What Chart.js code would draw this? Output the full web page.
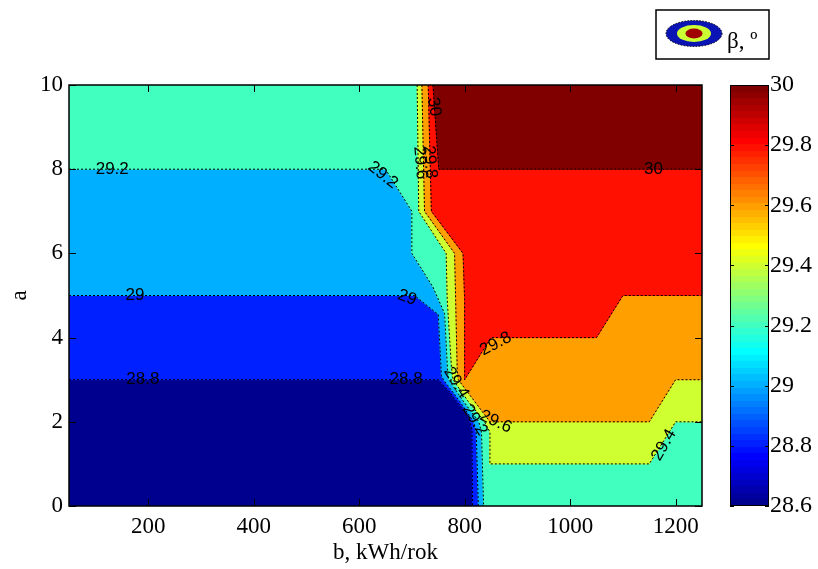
<!DOCTYPE html>
<html>
<head>
<meta charset="utf-8">
<script src="https://cdn.jsdelivr.net/npm/chart.js@4.4.1/dist/chart.umd.min.js"></script>
<style>
  html, body { margin: 0; padding: 0; background: #fff; }
  #wrap { position: relative; width: 818px; height: 569px; }
  #main { position: absolute; left: 0; top: 0; }
  #cbar { position: absolute; left: 700px; top: 0; }
</style>
</head>
<body>
<div id="wrap">
  <canvas id="main" width="818" height="569"></canvas>
  <canvas id="cbar" width="118" height="569"></canvas>
</div>
<script>
// axes
const bRange = [50, 1250];
const aRange = [0, 10];
const bTicks = [200, 400, 600, 800, 1000, 1200];
const aTicks = [0, 2, 4, 6, 8, 10];
const cbarTicks = [28.6, 28.8, 29, 29.2, 29.4, 29.6, 29.8, 30];
const levels = [28.6, 28.8, 29, 29.2, 29.4, 29.6, 29.8, 30];

// contour lines [b, a]
const c288 = [[50, 3], [750, 3], [772, 2.7], [784, 2.5], [807, 2.15], [814, 1.8], [815, 0]];
const c290 = [[50, 5], [705, 5], [750, 4.55], [756, 3.1], [760, 3], [790, 2.5], [817, 2], [822, 1.75], [826, 0]];
const c292 = [[50, 8], [650, 8], [700, 7], [700, 6], [740, 5.2], [762, 4.57], [768, 3.15], [770, 3], [797, 2.5], [827, 2], [832, 1.75], [836, 0]];
const c294 = [[710, 10], [713, 7], [765, 6], [767, 4.9], [775, 3.3], [778, 3], [806, 2.5], [838, 2], [848, 1.75], [848, 1], [1150, 1], [1200, 2], [1250, 2]];
const c296 = [[719, 10], [724, 7], [781, 6], [783, 4.9], [786, 3.2], [788, 3], [818, 2.5], [848, 2], [1150, 2], [1200, 3], [1250, 3]];
const c298 = [[731, 10], [737, 7], [797, 6], [800, 4.9], [800, 3], [850, 4], [1050, 4], [1100, 5], [1250, 5]];
const c300 = [[740, 10], [751, 8], [1250, 8]];
const contours = [c288, c290, c292, c294, c296, c298, c300];

// contour labels
const labelTexts = ['29.2', '29.2', '29', '29', '28.8', '28.8', '30', '29.6', '29.8', '30', '29.8', '29.6', '29.4', '29.2', '29.4'];
const labelB = [132, 645, 175, 691, 190, 689, 742, 716, 734, 1158, 859, 859, 784, 819, 1178];
const labelA = [8, 7.86, 5, 4.95, 3, 3, 9.48, 8.15, 8.17, 8, 3.85, 2.0, 2.93, 2.04, 1.45];
const labelAngle = [0, 38, 0, 20, 0, 0, 82, 85, 85, 0, -28, 25, 58, 58, -60];

// matlab jet(64)
function jet64() {
  const m = 16;
  const u = [];
  for (let i = 1; i <= m; i++) u.push(i / m);
  for (let i = 1; i < m; i++) u.push(1);
  for (let i = m; i >= 1; i--) u.push(i / m);
  const J = Array.from({ length: 64 }, () => [0, 0, 0]);
  u.forEach((v, k) => {
    const g = 8 + k + 1, r = g + m, b = g - m;
    if (r <= 64) J[r - 1][0] = v;
    J[g - 1][1] = v;
    if (b >= 1) J[b - 1][2] = v;
  });
  return J.map(c => `rgb(${Math.round(c[0] * 255)},${Math.round(c[1] * 255)},${Math.round(c[2] * 255)})`);
}
const JET = jet64();
const cMin = 28.6, cMax = 30;
function levelColor(L) {
  const idx = Math.min(64, Math.floor((L - cMin) / (cMax - cMin) * 64 + 1e-9) + 1);
  return JET[idx - 1];
}

const pts = arr => arr.map(([x, y]) => ({ x, y }));

// region where z >= level (high side is to the right / top)
function upperRegion(line) {
  const poly = line.slice();
  const [x0] = line[0];
  const [, y1] = line[line.length - 1];
  if (y1 === aRange[0]) poly.push([bRange[1], aRange[0]]);
  poly.push([bRange[1], aRange[1]]);
  if (x0 === bRange[0]) poly.push([bRange[0], aRange[1]]);
  return poly;
}
const baseRect = [[bRange[0], aRange[0]], [bRange[1], aRange[0]], [bRange[1], aRange[1]], [bRange[0], aRange[1]]];

const regionSets = [baseRect, ...contours.map(upperRegion)].map((poly, i) => ({
  data: pts(poly),
  fill: 'shape',
  backgroundColor: levelColor(levels[i]),
  borderColor: levelColor(levels[i]),
  borderWidth: 1,
  pointRadius: 0,
  order: 100 - i
}));
const lineSets = contours.map(c => ({
  data: pts(c),
  fill: false,
  borderColor: '#000',
  borderWidth: 1,
  borderDash: [2, 2],
  pointRadius: 0,
  order: 0
}));

const serif = { family: '"Liberation Serif", "Times New Roman", serif', size: 23 };

const contourLabels = {
  id: 'contourLabels',
  afterDatasetsDraw(chart) {
    const { ctx, scales: { x, y } } = chart;
    ctx.save();
    ctx.font = '17px "Liberation Sans", Arial, sans-serif';
    ctx.fillStyle = '#000';
    ctx.textAlign = 'center';
    ctx.textBaseline = 'middle';
    labelTexts.forEach((t, i) => {
      ctx.save();
      ctx.translate(x.getPixelForValue(labelB[i]), y.getPixelForValue(labelA[i]));
      ctx.rotate(labelAngle[i] * Math.PI / 180);
      ctx.fillText(t, 0, 0);
      ctx.restore();
    });
    ctx.restore();
  }
};

const frame = {
  id: 'frame',
  afterDraw(chart) {
    const { ctx, chartArea: a, scales: { x, y } } = chart;
    ctx.save();
    ctx.strokeStyle = '#000';
    ctx.lineWidth = 1.5;
    ctx.strokeRect(a.left, a.top, a.right - a.left, a.bottom - a.top);
    ctx.lineWidth = 1;
    ctx.beginPath();
    bTicks.forEach(v => {
      const px = Math.round(x.getPixelForValue(v)) + 0.5;
      ctx.moveTo(px, a.bottom); ctx.lineTo(px, a.bottom - 7);
      ctx.moveTo(px, a.top); ctx.lineTo(px, a.top + 7);
    });
    aTicks.forEach(v => {
      const py = Math.round(y.getPixelForValue(v)) + 0.5;
      ctx.moveTo(a.left, py); ctx.lineTo(a.left + 7, py);
      ctx.moveTo(a.right, py); ctx.lineTo(a.right - 7, py);
    });
    ctx.stroke();

    // legend glyph
    ctx.fillStyle = '#fff';
    ctx.fillRect(656, 10, 113, 49);
    ctx.lineWidth = 1.5;
    ctx.strokeRect(656, 10, 113, 49);
    const ell = (rx, ry, col) => {
      ctx.beginPath();
      ctx.ellipse(694, 33.5, rx, ry, 0, 0, Math.PI * 2);
      ctx.fillStyle = col;
      ctx.fill();
    };
    ell(28, 13, '#0a14b4');
    ctx.setLineDash([1.5, 1.5]);
    ctx.lineWidth = 1;
    ctx.stroke();
    ctx.setLineDash([]);
    ell(17, 8.5, '#ccff33');
    ell(8.5, 5, '#a00000');
    ctx.fillStyle = '#000';
    ctx.font = '23px "Liberation Serif", serif';
    ctx.textAlign = 'left';
    ctx.textBaseline = 'alphabetic';
    ctx.fillText('β, º', 727, 48);
    ctx.restore();
  }
};

new Chart(document.getElementById('main'), {
  type: 'line',
  data: { datasets: [...lineSets, ...regionSets] },
  options: {
    responsive: false,
    animation: false,
    events: [],
    layout: { padding: { left: 0, top: 85, right: 116, bottom: 0 } },
    elements: { line: { tension: 0 } },
    plugins: { legend: { display: false }, tooltip: { enabled: false } },
    scales: {
      x: {
        type: 'linear',
        min: bRange[0], max: bRange[1],
        afterBuildTicks: s => { s.ticks = bTicks.map(v => ({ value: v })); },
        afterFit: s => { s.height = 63; },
        grid: { display: false, drawTicks: false },
        border: { display: false },
        ticks: { font: serif, color: '#000', padding: 7, maxRotation: 0, autoSkip: false, callback: v => String(v) },
        title: { display: true, text: 'b, kWh/rok', font: serif, color: '#000', padding: { top: 0, bottom: 2 } }
      },
      y: {
        type: 'linear',
        min: aRange[0], max: aRange[1],
        afterBuildTicks: s => { s.ticks = aTicks.map(v => ({ value: v })); },
        afterFit: s => { s.width = 69; },
        grid: { display: false, drawTicks: false },
        border: { display: false },
        ticks: { font: serif, color: '#000', padding: 6, autoSkip: false, callback: v => String(v) },
        title: { display: true, text: 'a', font: serif, color: '#000', padding: { top: 6, bottom: 0 } }
      }
    }
  },
  plugins: [contourLabels, frame]
});

// colorbar
function jetGradient(chart) {
  const a = chart.chartArea;
  if (!a) return JET[0];
  const g = chart.ctx.createLinearGradient(0, a.bottom, 0, a.top);
  JET.forEach((c, i) => {
    g.addColorStop(i / 64, c);
    g.addColorStop((i + 1) / 64 - 1e-6, c);
  });
  return g;
}

const cbarFrame = {
  id: 'cbarFrame',
  afterDraw(chart) {
    const { ctx, chartArea: a, scales: { y } } = chart;
    ctx.save();
    ctx.strokeStyle = '#000';
    ctx.lineWidth = 1;
    ctx.strokeRect(a.left + 0.5, a.top + 0.5, a.right - a.left - 1, a.bottom - a.top - 1);
    ctx.beginPath();
    cbarTicks.forEach(v => {
      const py = Math.round(y.getPixelForValue(v)) + 0.5;
      ctx.moveTo(a.left, py); ctx.lineTo(a.left + 4, py);
      ctx.moveTo(a.right, py); ctx.lineTo(a.right - 4, py);
    });
    ctx.stroke();
    ctx.restore();
  }
};

new Chart(document.getElementById('cbar'), {
  type: 'bar',
  data: {
    labels: ['β'],
    datasets: [{
      data: [[cMin, cMax]],
      backgroundColor: ctx => jetGradient(ctx.chart),
      barPercentage: 1,
      categoryPercentage: 1,
      borderWidth: 0
    }]
  },
  options: {
    responsive: false,
    animation: false,
    events: [],
    layout: { padding: { left: 30, top: 85, right: 0, bottom: 63 } },
    plugins: { legend: { display: false }, tooltip: { enabled: false } },
    scales: {
      x: { display: false },
      y: {
        position: 'right',
        min: cMin, max: cMax,
        afterBuildTicks: s => { s.ticks = cbarTicks.map(v => ({ value: v })); },
        afterFit: s => { s.width = 49; },
        grid: { display: false, drawTicks: false },
        border: { display: false },
        ticks: { font: { family: serif.family, size: 24 }, color: '#000', padding: 1, autoSkip: false, callback: v => String(+Number(v).toFixed(1)) }
      }
    }
  },
  plugins: [cbarFrame]
});
</script>
</body>
</html>
